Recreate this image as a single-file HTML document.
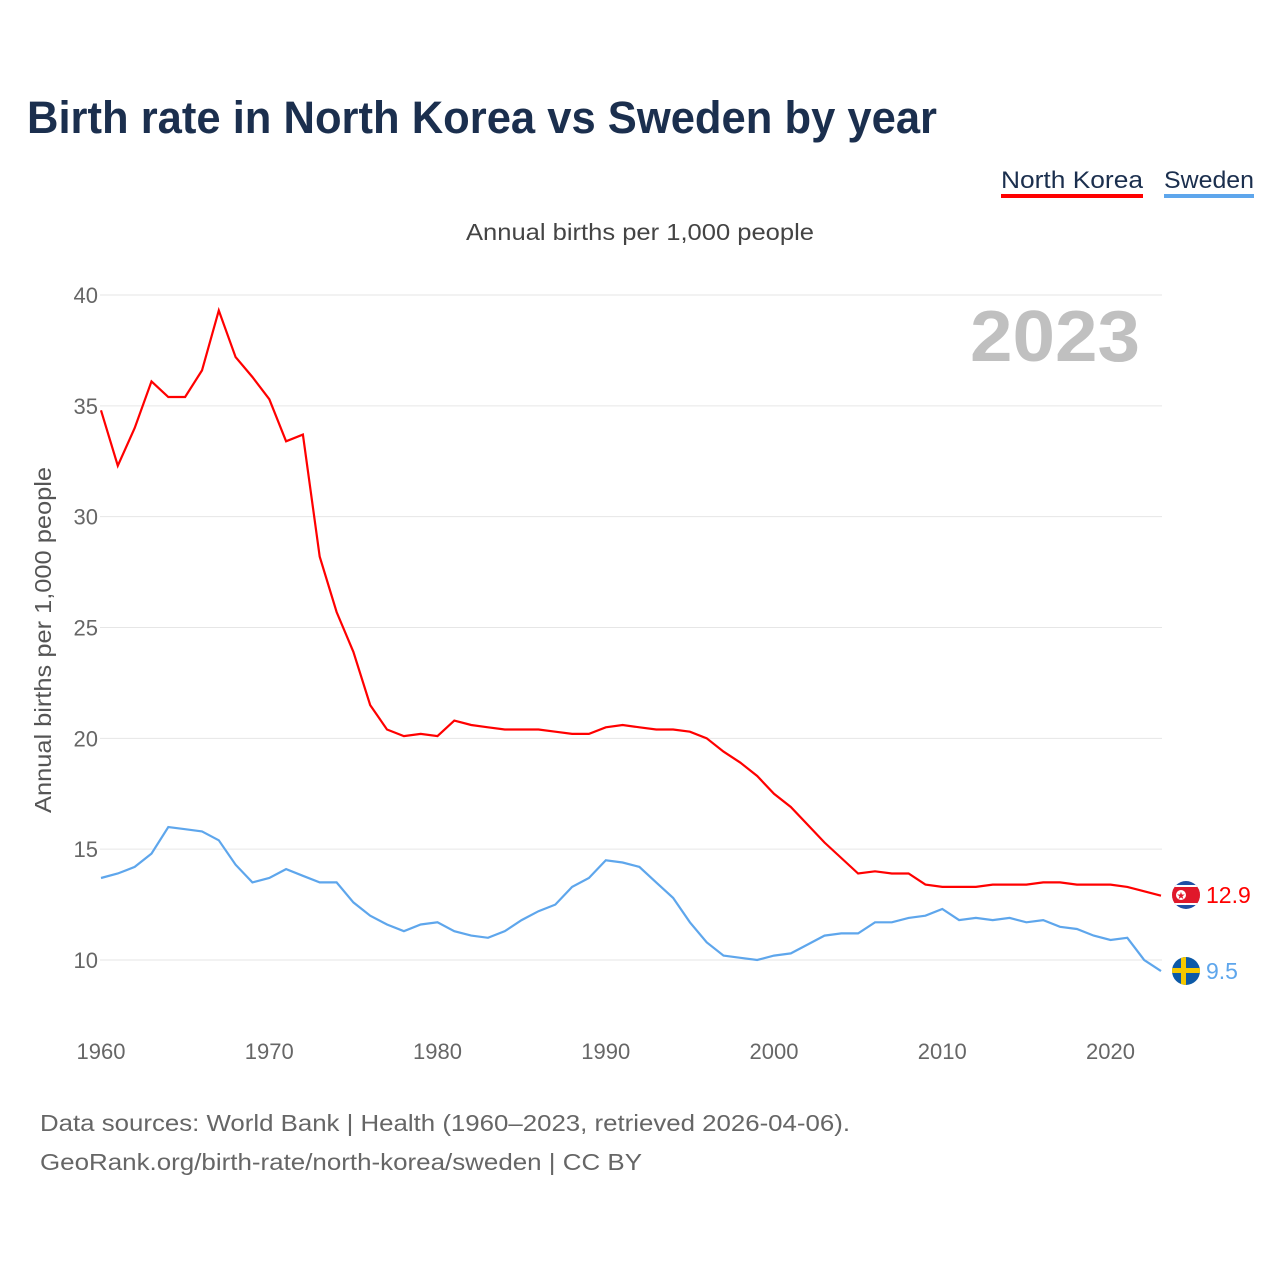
<!DOCTYPE html>
<html><head><meta charset="utf-8"><style>
body{margin:0;background:#fff;font-family:"Liberation Sans",sans-serif;}
</style></head><body>
<svg width="1280" height="1280" xmlns="http://www.w3.org/2000/svg" id="chart" font-family="Liberation Sans, sans-serif">
<text x="27" y="133" font-size="45" font-weight="bold" fill="#1b2f4e" textLength="910" lengthAdjust="spacingAndGlyphs">Birth rate in North Korea vs Sweden by year</text>
<g><text x="1001" y="188" font-size="24" fill="#1b2f4e" textLength="142" lengthAdjust="spacingAndGlyphs">North Korea</text><rect x="1001" y="194" width="142" height="4" fill="#ff0000"/></g>
<g><text x="1164" y="188" font-size="24" fill="#1b2f4e" textLength="90" lengthAdjust="spacingAndGlyphs">Sweden</text><rect x="1164" y="194" width="90" height="4" fill="#5ea6ec"/></g>
<text x="466" y="240" font-size="23" fill="#444" textLength="348" lengthAdjust="spacingAndGlyphs">Annual births per 1,000 people</text>
<text x="1140" y="361" font-size="72" font-weight="bold" fill="#c0c0c0" text-anchor="end" textLength="170" lengthAdjust="spacingAndGlyphs">2023</text>
<text transform="translate(51,640) rotate(-90)" font-size="23" fill="#555" text-anchor="middle" textLength="346" lengthAdjust="spacingAndGlyphs">Annual births per 1,000 people</text>
<g id="grid"></g><g id="lines"></g>
<g>
<clipPath id="c1"><circle cx="1186" cy="895" r="14"/></clipPath>
<g clip-path="url(#c1)"><rect x="1172" y="881" width="28" height="28" fill="#1f4fa5"/><rect x="1172" y="885" width="28" height="20" fill="#fff"/><rect x="1172" y="887" width="28" height="16" fill="#e0182a"/><circle cx="1181" cy="895" r="5" fill="#fff"/><text x="1181" y="899" font-size="10" fill="#e0182a" text-anchor="middle">★</text></g>
<text x="1206" y="903" font-size="23" fill="#ff0000">12.9</text></g>
<g>
<clipPath id="c2"><circle cx="1186" cy="971" r="14"/></clipPath>
<g clip-path="url(#c2)"><rect x="1172" y="957" width="28" height="28" fill="#0d5aa7"/><rect x="1172" y="968" width="28" height="5" fill="#f5c800"/><rect x="1181" y="957" width="5" height="28" fill="#f5c800"/></g>
<text x="1206" y="979" font-size="23" fill="#5ea6ec">9.5</text></g>
<text x="40" y="1131" font-size="23" fill="#666" textLength="810" lengthAdjust="spacingAndGlyphs">Data sources: World Bank | Health (1960–2023, retrieved 2026-04-06).</text>
<text x="40" y="1170" font-size="23" fill="#666" textLength="602" lengthAdjust="spacingAndGlyphs">GeoRank.org/birth-rate/north-korea/sweden | CC BY</text>
</svg>
<script>
const years=[];for(let y=1960;y<=2023;y++)years.push(y);
const northKorea=[34.8,32.3,34.0,36.1,35.4,35.4,36.6,39.3,37.2,36.3,35.3,33.4,33.7,28.2,25.7,23.9,21.5,20.4,20.1,20.2,20.1,20.8,20.6,20.5,20.4,20.4,20.4,20.3,20.2,20.2,20.5,20.6,20.5,20.4,20.4,20.3,20.0,19.4,18.9,18.3,17.5,16.9,16.1,15.3,14.6,13.9,14.0,13.9,13.9,13.4,13.3,13.3,13.3,13.4,13.4,13.4,13.5,13.5,13.4,13.4,13.4,13.3,13.1,12.9];
const sweden=[13.7,13.9,14.2,14.8,16.0,15.9,15.8,15.4,14.3,13.5,13.7,14.1,13.8,13.5,13.5,12.6,12.0,11.6,11.3,11.6,11.7,11.3,11.1,11.0,11.3,11.8,12.2,12.5,13.3,13.7,14.5,14.4,14.2,13.5,12.8,11.7,10.8,10.2,10.1,10.0,10.2,10.3,10.7,11.1,11.2,11.2,11.7,11.7,11.9,12.0,12.3,11.8,11.9,11.8,11.9,11.7,11.8,11.5,11.4,11.1,10.9,11.0,10.0,9.5];
const yTicks=[10,15,20,25,30,35,40];
const xTicks=[1960,1970,1980,1990,2000,2010,2020];
const NS="http://www.w3.org/2000/svg";
const xs=y=>101+(y-1960)*(1161-101)/63;
const ys=v=>960-(v-10)*(665/30);
const grid=document.getElementById('grid'),lines=document.getElementById('lines');
yTicks.forEach(t=>{
 const l=document.createElementNS(NS,'line');
 
 
 l.setAttribute('x1',100);l.setAttribute('x2',1162);l.setAttribute('y1',ys(t));l.setAttribute('y2',ys(t));
 l.setAttribute('stroke','#e6e6e6');grid.appendChild(l);
 const tx=document.createElementNS(NS,'text');
 
 
 tx.setAttribute('x',98);tx.setAttribute('y',ys(t)+8);tx.setAttribute('text-anchor','end');
 tx.setAttribute('font-size','22');tx.setAttribute('fill','#666');tx.textContent=t;grid.appendChild(tx);
});
xTicks.forEach(t=>{
 const tx=document.createElementNS(NS,'text');
 
 
 tx.setAttribute('x',xs(t));tx.setAttribute('y',1059);tx.setAttribute('text-anchor','middle');
 tx.setAttribute('font-size','22');tx.setAttribute('fill','#666');tx.textContent=t;grid.appendChild(tx);
});
function draw(vals,color,name){
 const p=document.createElementNS(NS,'path');
 
 
 p.setAttribute('d',vals.map((v,i)=>(i?'L':'M')+xs(years[i]).toFixed(1)+','+ys(v).toFixed(1)).join(''));
 p.setAttribute('fill','none');p.setAttribute('stroke',color);p.setAttribute('stroke-width','2.2');
 lines.appendChild(p);
}
draw(northKorea,'#ff0000','north-korea-line');
draw(sweden,'#5ea6ec','sweden-line');
</script>
</body></html>
